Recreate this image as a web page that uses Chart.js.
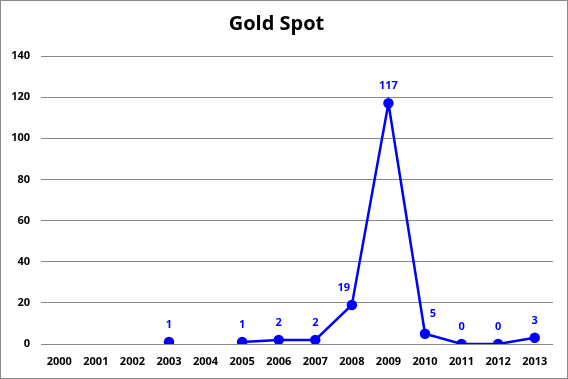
<!DOCTYPE html>
<html>
<head>
<meta charset="utf-8">
<script src="https://cdn.jsdelivr.net/npm/chart.js@4/dist/chart.umd.min.js"></script>
<style>
    html, body { margin: 0; padding: 0; background: #fff; }
    #wrap { width: 568px; height: 379px; position: relative; }
</style>
</head>
<body>
<div id="wrap"><canvas id="chart" width="568" height="379"></canvas></div>
<script>
// Data
const years = ['2000', '2001', '2002', '2003', '2004', '2005', '2006', '2007', '2008', '2009', '2010', '2011', '2012', '2013'];
const goldSpot = [null, null, null, 1, null, 1, 2, 2, 19, 117, 5, 0, 0, 3];
const yTicks = [0, 20, 40, 60, 80, 100, 120, 140];

const blue = '#0000ff';
const tickFont = { family: '"Open Sans", sans-serif', size: 11, weight: 'bold' };

// Plugins
const frame = {
    id: 'frame',
    beforeDraw(chart) {
        const { ctx, width, height } = chart;
        ctx.save();
        ctx.fillStyle = '#fff';
        ctx.fillRect(0, 0, width, height);
        ctx.strokeStyle = '#888';
        ctx.lineWidth = 1;
        ctx.strokeRect(0.5, 0.5, width - 1, height - 1);
        ctx.restore();
    },
};

// labels above the points, nudged sideways where the line would cross them
const valueLabels = {
    id: 'valueLabels',
    afterDatasetsDraw(chart, args, opts) {
        const { ctx } = chart;
        const meta = chart.getDatasetMeta(0);
        const values = chart.data.datasets[0].data;
        const nudge = opts.nudge || {};
        ctx.save();
        ctx.fillStyle = blue;
        ctx.font = 'bold 11px "Open Sans", sans-serif';
        ctx.textAlign = 'center';
        ctx.textBaseline = 'middle';
        meta.data.forEach((pt, i) => {
            if (values[i] === null) return;
            const [dx, dy] = nudge[i] || [0, 0];
            ctx.fillText(String(values[i]), pt.x + dx, pt.y - 17 + dy);
        });
        ctx.restore();
    },
};

// eslint-disable-next-line no-new
new Chart(document.getElementById('chart').getContext('2d'), {
    type: 'line',
    data: {
        labels: years,
        datasets: [{
            label: 'Gold Spot',
            data: goldSpot,
            borderColor: blue,
            backgroundColor: blue,
            borderWidth: 2.5,
            pointRadius: 4,
            pointHoverRadius: 4,
            tension: 0,
            spanGaps: false,
        }],
    },
    options: {
        responsive: false,
        animation: false,
        layout: { padding: { left: 0, right: 15, top: 0, bottom: 0 } },
        plugins: {
            legend: { display: false },
            tooltip: { enabled: false },
            title: {
                display: true,
                text: 'Gold Spot',
                color: '#000',
                font: { family: '"Open Sans", sans-serif', size: 20, weight: 'bold', lineHeight: 1.2 },
                padding: { top: 12, bottom: 20 },
            },
            valueLabels: {
                nudge: { 8: [-8, 0], 10: [8, -3] },
            },
        },
        scales: {
            x: {
                offset: true,
                grid: { display: false, drawTicks: false },
                border: { display: false },
                ticks: { color: '#000', font: tickFont, padding: 11, maxRotation: 0, autoSkip: false },
                afterFit: (scale) => { scale.height = 35; },
            },
            y: {
                min: 0,
                max: 140,
                afterBuildTicks: (scale) => { scale.ticks = yTicks.map((v) => ({ value: v })); },
                grid: { color: '#868686', lineWidth: 1, drawTicks: false },
                border: { display: false },
                ticks: { color: '#000', font: tickFont, padding: 11 },
                afterFit: (scale) => { scale.width = 41; },
            },
        },
    },
    plugins: [frame, valueLabels],
});
</script>
</body>
</html>
